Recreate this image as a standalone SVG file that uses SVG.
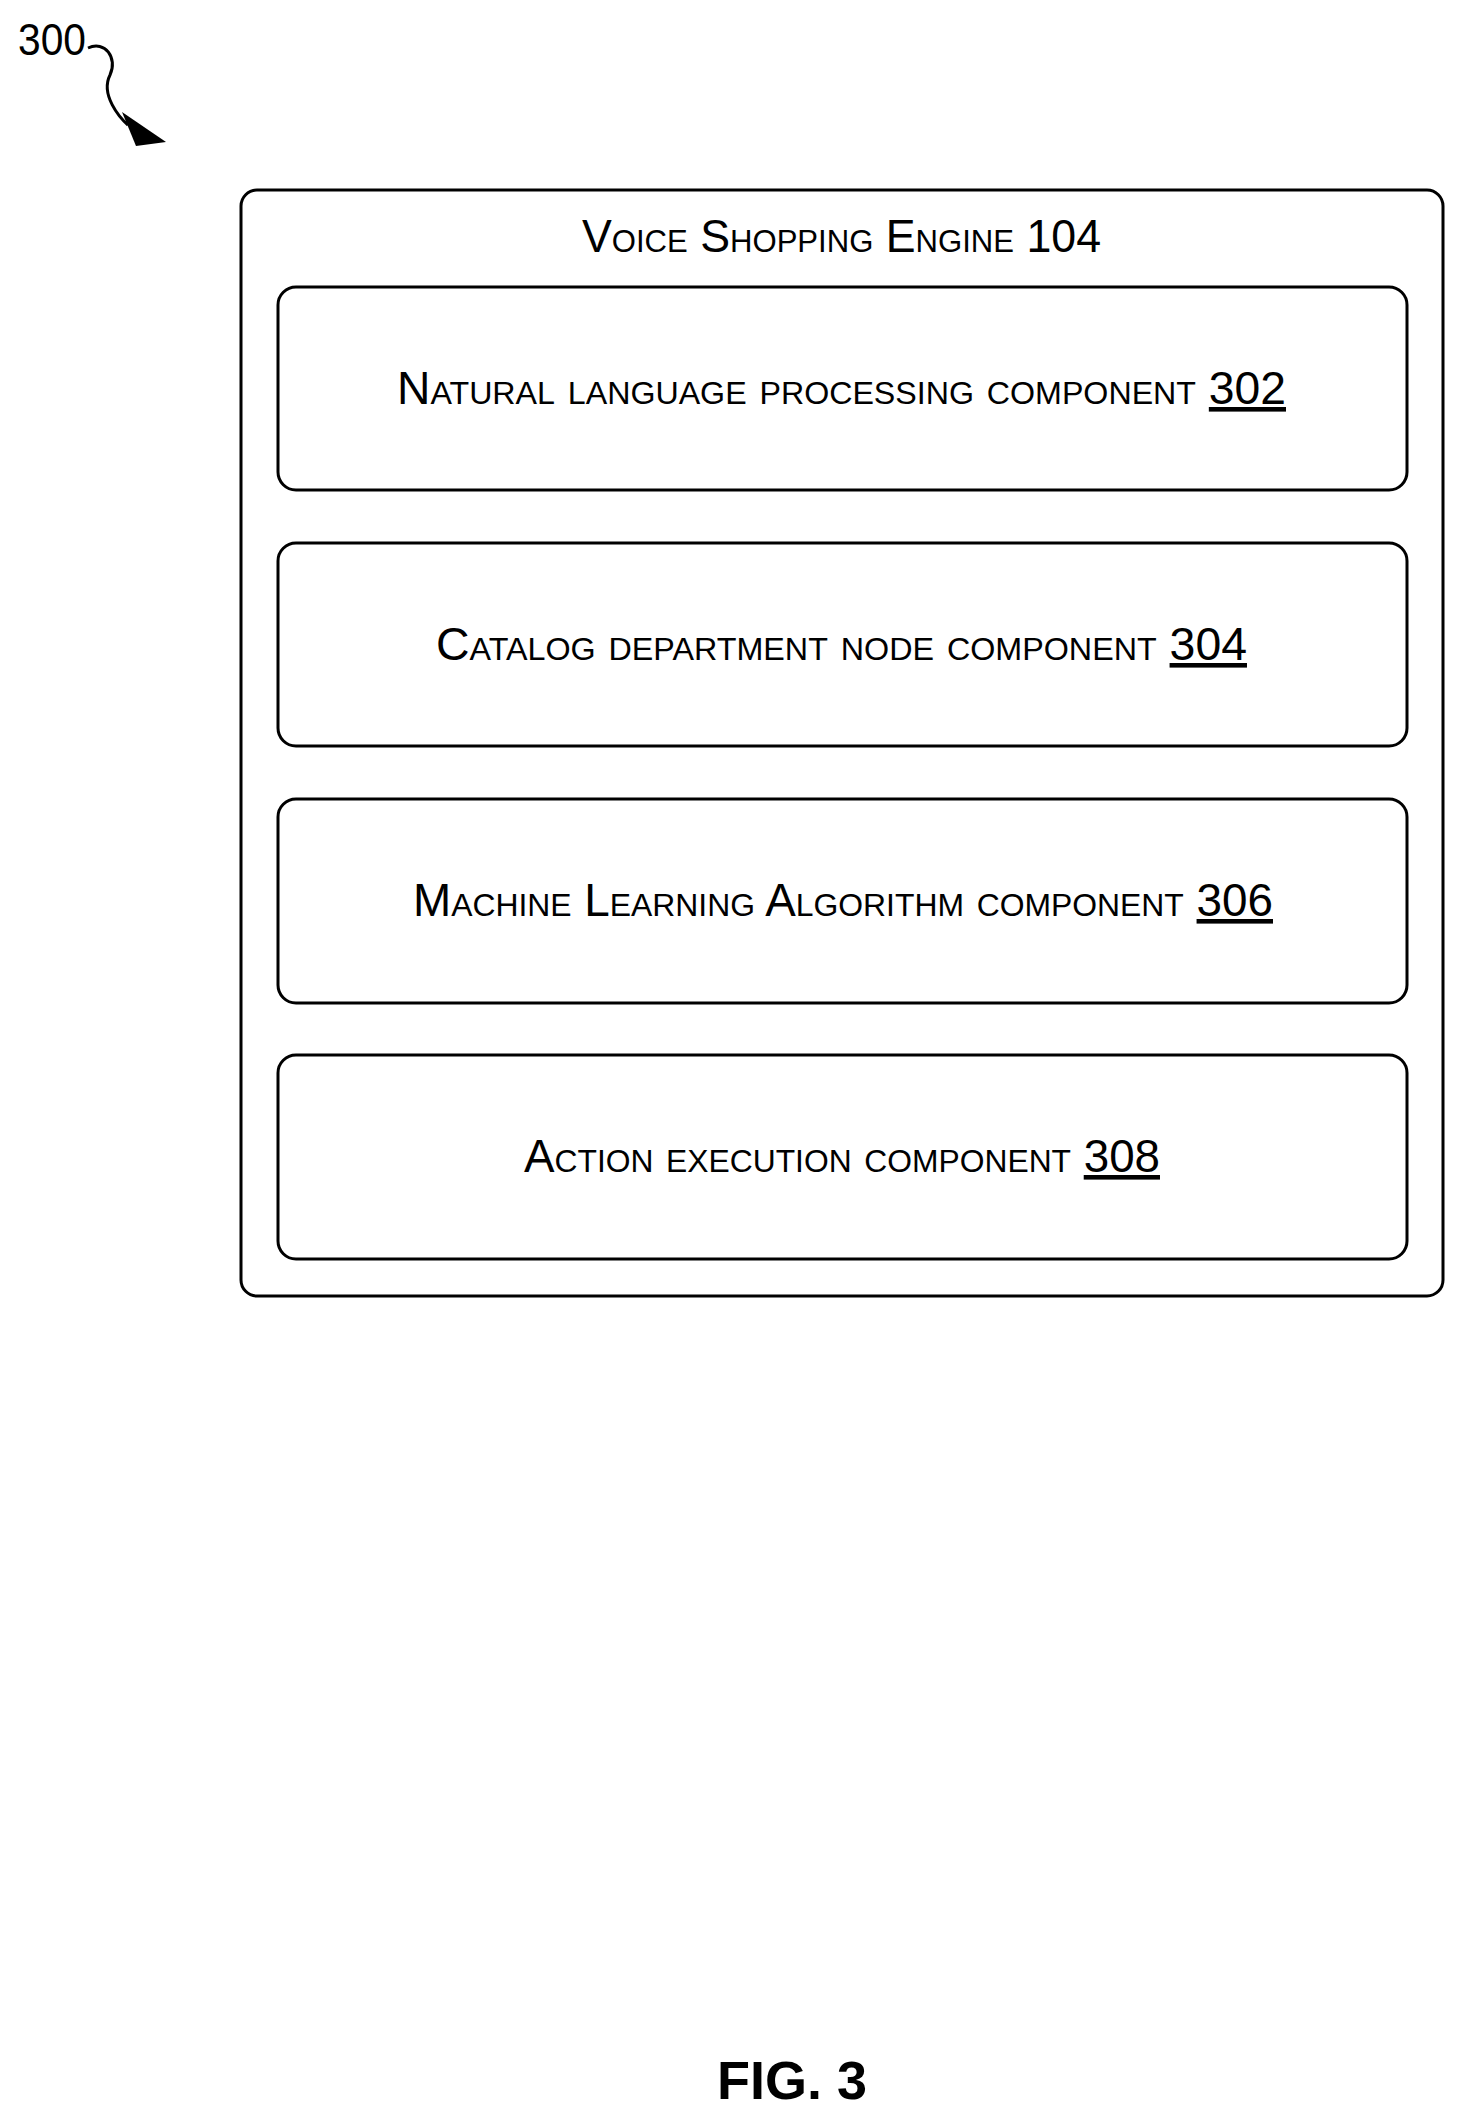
<svg xmlns="http://www.w3.org/2000/svg" width="1462" height="2117" viewBox="0 0 1462 2117">
<style>
.box{fill:#fff;stroke:#000;stroke-width:3}
.t{font-family:"Liberation Sans Narrow","Liberation Sans",sans-serif;font-size:46px;font-variant:small-caps;fill:#000}
.u{text-decoration:underline}
</style>
<defs><marker id="ah" markerWidth="10" markerHeight="10" refX="8" refY="5" orient="auto" markerUnits="userSpaceOnUse" viewBox="0 0 10 10"><path d="M0,0 L10,5 L0,10 z"/></marker></defs>
<rect width="1462" height="2117" fill="#fff"/>
<g id="label300">
<text x="18" y="55" font-family="Liberation Sans Narrow,Liberation Sans,sans-serif" font-size="44" textLength="68" lengthAdjust="spacingAndGlyphs">300</text>
</g>
<g id="connectors">
<path d="M88,48 C105,40 118,58 110,75 C100,95 120,118 128,125" fill="none" stroke="#000" stroke-width="3"/>
<path d="M122,112 L166,142 L136,146 z" fill="#000"/>
</g>
<g id="engine">
<rect class="box" x="241" y="190" width="1202" height="1106" rx="16"/>
<text class="t" x="582" y="252" textLength="519" lengthAdjust="spacingAndGlyphs">Voice Shopping Engine 104</text>
</g>
<g id="n302"><rect class="box" x="278" y="287" width="1129" height="203" rx="18"/>
<text class="t" x="397" y="404" textLength="889" lengthAdjust="spacingAndGlyphs">Natural language processing component <tspan class="u">302</tspan></text></g>
<g id="n304"><rect class="box" x="278" y="543" width="1129" height="203" rx="18"/>
<text class="t" x="436" y="660" textLength="811" lengthAdjust="spacingAndGlyphs">Catalog department node component <tspan class="u">304</tspan></text></g>
<g id="n306"><rect class="box" x="278" y="799" width="1129" height="204" rx="18"/>
<text class="t" x="413" y="916" textLength="860" lengthAdjust="spacingAndGlyphs">Machine Learning Algorithm component <tspan class="u">306</tspan></text></g>
<g id="n308"><rect class="box" x="278" y="1055" width="1129" height="204" rx="18"/>
<text class="t" x="524" y="1172" textLength="636" lengthAdjust="spacingAndGlyphs">Action execution component <tspan class="u">308</tspan></text></g>
<g id="fig"><text x="792" y="2099" text-anchor="middle" font-family="Liberation Sans,sans-serif" font-weight="bold" font-size="54">FIG. 3</text></g>
</svg>
